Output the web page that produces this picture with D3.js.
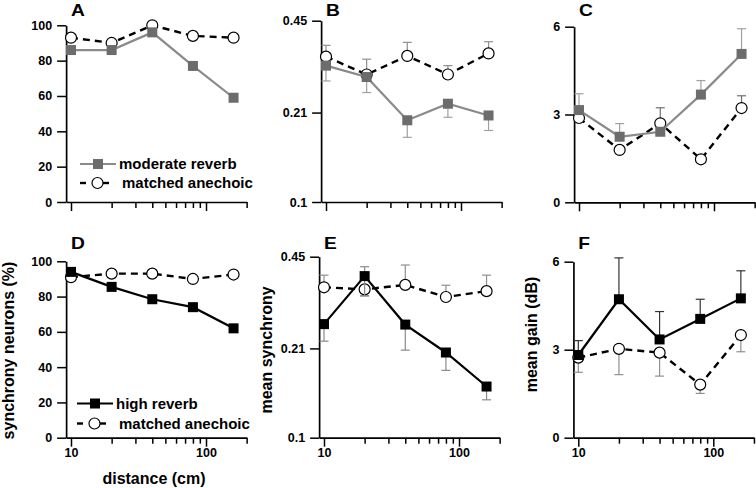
<!DOCTYPE html>
<html>
<head>
<meta charset="utf-8">
<script src="https://cdn.jsdelivr.net/npm/d3@7"></script>
<style>
  html, body { margin: 0; padding: 0; background: #fff; }
  svg { display: block; font-family: "Liberation Sans", Arial, Helvetica, sans-serif; font-weight: bold; }
</style>
</head>
<body>
<svg id="chart" width="756" height="488"></svg>
<script>
// ---------- DATA ----------
const distances = [10, 20, 40, 80, 160];
const xTickValues = [10, 20, 30, 40, 50, 60, 70, 80, 90, 100, 200];
const xMajorTicks = [10, 100];
const pctTicks = [0, 20, 40, 60, 80, 100];
const syncTicks = [0.1, 0.21, 0.45];
const gainTicks = [0, 3, 6];
const panelLetters = ["A", "B", "C", "D", "E", "F"];
const legendLabelsTop = ["moderate reverb", "matched anechoic"];
const legendLabelsBottom = ["high reverb", "matched anechoic"];
const yTitles = ["synchrony neurons (%)", "mean synchrony", "mean gain (dB)"];
const xTitle = "distance (cm)";

// A: % synchrony neurons, moderate reverb
const modRevPct = [86, 86, 96, 77, 59];
const modAnePct = [93, 90, 100, 94, 93];
// B: mean synchrony, moderate reverb (error bar end values)
const modRevSync = [0.310, 0.282, 0.197, 0.226, 0.205];
const modRevSyncLo = [0.273, 0.248, 0.171, 0.202, 0.181];
const modAneSync = [0.334, 0.288, 0.336, 0.288, 0.343];
const modAneSyncHi = [0.367, 0.327, 0.376, 0.310, 0.378];
// C: mean gain, moderate reverb
const modRevGain = [3.15, 2.24, 2.41, 3.68, 5.07];
const modRevGainHi = [3.71, 2.69, null, 4.16, 5.93];
const modAneGain = [2.88, 1.79, 2.70, 1.47, 3.22];
const modAneGainHi = [null, null, 3.23, null, 3.64];
// D: % synchrony neurons, high reverb
const highRevPct = [94, 85.5, 78.5, 74, 62];
const highAnePct = [91, 93, 93, 90, 92.5];
// E: mean synchrony, high reverb
const highRevSync = [0.257, 0.383, 0.256, 0.203, 0.153];
const highRevSyncLo = [0.223, 0.325, 0.207, 0.175, 0.137];
const highRevSyncHi = [null, 0.414, null, null, null];
const highAneSync = [0.349, 0.343, 0.356, 0.322, 0.338];
const highAneSyncHi = [0.386, null, 0.420, 0.355, 0.386];
const highAneSyncLo = [null, 0.325, null, null, null];
// F: mean gain, high reverb
const highRevGain = [2.82, 4.72, 3.35, 4.05, 4.75];
const highRevGainHi = [3.31, 6.13, 4.30, 4.72, 5.69];
const highAneGain = [2.73, 3.03, 2.90, 1.81, 3.50];
const highAneGainLo = [2.23, 2.15, 2.10, 1.51, 2.93];

// ---------- STYLE ----------
const GRAY_LINE = "#8a8a8a", GRAY_FILL = "#6c6c6c", BLACK = "#000";
const svg = d3.select("#chart");
const DEC = 135; // px per decade
const X0 = 9.2, X1 = 200;

function none(n) { return new Array(n).fill(null); }

const panels = [
  { letter: panelLetters[0], col: 0, row: 0, x10: 71, yBottom: 202, yTop: 25.3, type: "lin", dom: [0, 100], ticks: pctTicks, fmt: d3.format("d"),
    rev: { v: modRevPct, hi: none(5), lo: none(5), kind: "mod" }, ane: { v: modAnePct, hi: none(5), lo: none(5) }, legend: legendLabelsTop },
  { letter: panelLetters[1], col: 1, row: 0, x10: 326, yBottom: 202, yTop: 20.7, type: "log", dom: [0.1, 0.45], ticks: syncTicks, fmt: d => String(d),
    rev: { v: modRevSync, hi: none(5), lo: modRevSyncLo, kind: "mod" }, ane: { v: modAneSync, hi: modAneSyncHi, lo: none(5), err: "#8f8f8f" } },
  { letter: panelLetters[2], col: 2, row: 0, x10: 579, yBottom: 202.3, yTop: 26.7, type: "lin", dom: [0, 6], ticks: gainTicks, fmt: d3.format("d"),
    rev: { v: modRevGain, hi: modRevGainHi, lo: none(5), kind: "mod" }, ane: { v: modAneGain, hi: modAneGainHi, lo: none(5), err: "#707070" } },
  { letter: panelLetters[3], col: 0, row: 1, x10: 71, yBottom: 437.7, yTop: 261.3, type: "lin", dom: [0, 100], ticks: pctTicks, fmt: d3.format("d"),
    rev: { v: highRevPct, hi: none(5), lo: none(5), kind: "high" }, ane: { v: highAnePct, hi: none(5), lo: none(5) }, legend: legendLabelsBottom, xlabels: true },
  { letter: panelLetters[4], col: 1, row: 1, x10: 324, yBottom: 437.7, yTop: 256.7, type: "log", dom: [0.1, 0.45], ticks: syncTicks, fmt: d => String(d),
    rev: { v: highRevSync, hi: highRevSyncHi, lo: highRevSyncLo, kind: "high", err: "#8a8a8a" }, ane: { v: highAneSync, hi: highAneSyncHi, lo: highAneSyncLo, err: "#8f8f8f" }, xlabels: true },
  { letter: panelLetters[5], col: 2, row: 1, x10: 578.3, yBottom: 437.7, yTop: 261.7, type: "lin", dom: [0, 6], ticks: gainTicks, fmt: d3.format("d"),
    rev: { v: highRevGain, hi: highRevGainHi, lo: none(5), kind: "high", err: "#333" }, ane: { v: highAneGain, hi: none(5), lo: highAneGainLo, err: "#8f8f8f" }, xlabels: true }
];

panels.forEach(p => {
  const x = d3.scaleLog().domain([X0, X1])
    .range([p.x10 - DEC * Math.log10(10 / X0), p.x10 + DEC * Math.log10(X1 / 10)]);
  const y = (p.type === "log" ? d3.scaleLog() : d3.scaleLinear()).domain(p.dom).range([p.yBottom, p.yTop]);
  const g = svg.append("g");

  // X axis
  const xa = g.append("g").attr("transform", `translate(0,${p.yBottom})`)
    .call(d3.axisBottom(x).tickValues(xTickValues).tickSizeOuter(0)
      .tickFormat(d => (p.xlabels && xMajorTicks.includes(d)) ? String(d) : ""));
  xa.selectAll(".tick line").attr("y2", d => xMajorTicks.includes(d) ? 9 : 6);
  xa.selectAll(".tick text").attr("y", 10.5).attr("dy", "0.71em");

  // Y axis
  const ya = g.append("g").attr("transform", `translate(${x(X0)},0)`)
    .call(d3.axisLeft(y).tickValues(p.ticks).tickFormat(p.fmt).tickSize(9).tickPadding(5).tickSizeOuter(0));
  [xa, ya].forEach(a => {
    a.select(".domain").attr("stroke", BLACK).attr("stroke-width", 1.7);
    a.selectAll(".tick line").attr("stroke", BLACK).attr("stroke-width", 1.5);
    a.selectAll(".tick text").attr("fill", BLACK).style("font-size", "12.5px").style("font-weight", "bold")
      .style("font-family", "'Liberation Sans', Arial, sans-serif");
  });

  // Panel letter
  g.append("text").attr("transform", `translate(${p.x10},${p.row === 0 ? 16 : 248.5}) scale(1.2,1)`)
    .style("font-size", "16px").text(p.letter);

  const isMod = p.rev.kind === "mod";
  const revLine = isMod ? GRAY_LINE : BLACK;
  const revFill = isMod ? GRAY_FILL : BLACK;
  const line = d3.line().x((d, i) => x(distances[i])).y(d => y(d));

  function errBars(s, color) {
    const segs = [];
    distances.forEach((d, i) => {
      if (s.hi[i] != null) segs.push({ d, v: s.v[i], e: s.hi[i] });
      if (s.lo[i] != null) segs.push({ d, v: s.v[i], e: s.lo[i] });
    });
    const eg = g.append("g").attr("stroke", color).attr("stroke-width", 1.2).attr("fill", "none");
    eg.selectAll("line.v").data(segs).join("line").attr("class", "v")
      .attr("x1", d => x(d.d)).attr("x2", d => x(d.d)).attr("y1", d => y(d.v)).attr("y2", d => y(d.e));
    eg.selectAll("line.c").data(segs).join("line").attr("class", "c")
      .attr("x1", d => x(d.d) - 4.5).attr("x2", d => x(d.d) + 4.5).attr("y1", d => y(d.e)).attr("y2", d => y(d.e));
  }

  // anechoic series (dashed, open circles)
  g.append("path").datum(p.ane.v).attr("d", line).attr("fill", "none")
    .attr("stroke", BLACK).attr("stroke-width", 2.4).attr("stroke-dasharray", "7,5");
  errBars(p.ane, p.ane.err || "#8f8f8f");
  g.append("g").selectAll("circle").data(p.ane.v).join("circle")
    .attr("cx", (d, i) => x(distances[i])).attr("cy", d => y(d)).attr("r", 5.5)
    .attr("fill", "#fff").attr("stroke", BLACK).attr("stroke-width", 1.2);

  // reverb series (solid, squares)
  g.append("path").datum(p.rev.v).attr("d", line).attr("fill", "none")
    .attr("stroke", revLine).attr("stroke-width", 2.2);
  errBars(p.rev, p.rev.err || "#a0a0a0");
  g.append("g").selectAll("rect").data(p.rev.v).join("rect")
    .attr("x", (d, i) => x(distances[i]) - 5).attr("y", d => y(d) - 5)
    .attr("width", 10).attr("height", 10).attr("fill", revFill);

  // Legend
  if (p.legend) {
    const top = p.row === 0;
    const r1 = top ? 164 : 403.5, r2 = top ? 183 : 423.5;
    const lx0 = top ? 80 : 77;
    const lg = g.append("g").style("font-size", "15px");
    lg.append("line").attr("x1", lx0).attr("x2", lx0 + 36).attr("y1", r1).attr("y2", r1)
      .attr("stroke", revLine).attr("stroke-width", 2.2);
    lg.append("rect").attr("x", lx0 + 18 - 5).attr("y", r1 - 5).attr("width", 10).attr("height", 10).attr("fill", revFill);
    lg.append("text").attr("x", lx0 + 39).attr("y", r1 + 5).text(p.legend[0]);
    lg.append("line").attr("x1", lx0).attr("x2", lx0 + 6).attr("y1", r2).attr("y2", r2)
      .attr("stroke", BLACK).attr("stroke-width", 2.4);
    lg.append("line").attr("x1", lx0 + 23).attr("x2", lx0 + 29).attr("y1", r2).attr("y2", r2)
      .attr("stroke", BLACK).attr("stroke-width", 2.4);
    lg.append("circle").attr("cx", lx0 + 17.5).attr("cy", r2).attr("r", 5.5)
      .attr("fill", "#fff").attr("stroke", BLACK).attr("stroke-width", 1.2);
    lg.append("text").attr("x", lx0 + 42).attr("y", r2 + 5).text(p.legend[1]);
  }
});

// Axis titles
svg.append("text").attr("x", 154).attr("y", 484).attr("text-anchor", "middle")
  .style("font-size", "16px").text(xTitle);
const yTitlePos = [[14, 350.5], [272, 350], [537, 334.5]];
yTitles.forEach((t, i) => {
  svg.append("text").attr("transform", `translate(${yTitlePos[i][0]},${yTitlePos[i][1]}) rotate(-90)`)
    .attr("text-anchor", "middle").style("font-size", "16px").text(t);
});
</script>
</body>
</html>
